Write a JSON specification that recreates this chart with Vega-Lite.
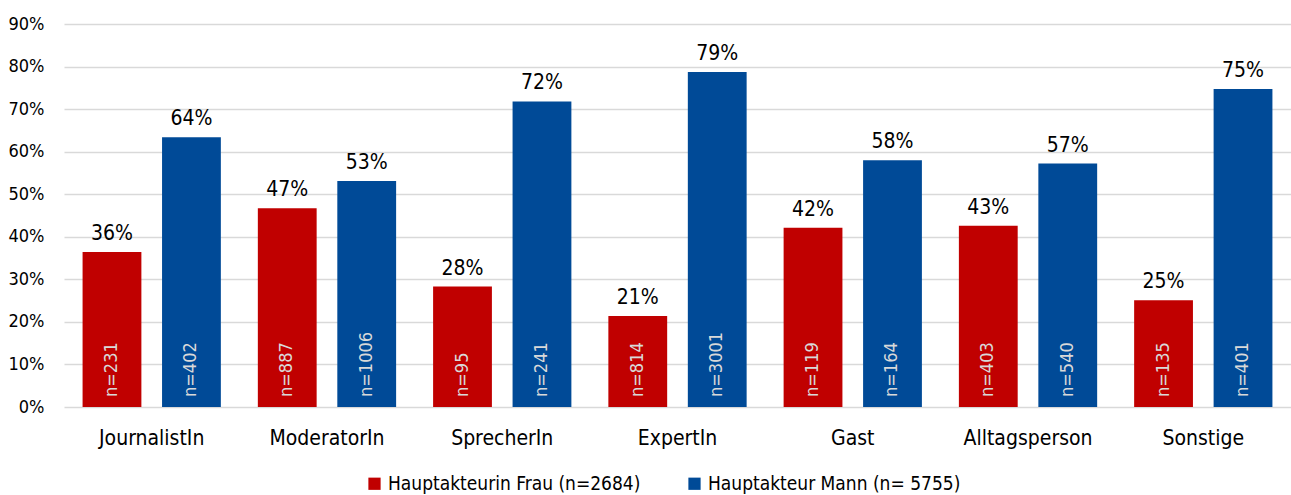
{
  "$schema": "https://vega.github.io/schema/vega-lite/v6.json",
  "width": 1227,
  "height": 383,
  "autosize": {"type": "none"},
  "padding": {"left": 64, "top": 24, "right": 0, "bottom": 88},
  "background": "white",
  "config": {
    "view": {"stroke": null},
    "font": "Liberation Sans Narrow, DejaVu Sans Condensed, Liberation Sans, sans-serif",
    "axis": {"labelFont": "Liberation Sans Narrow, DejaVu Sans Condensed, Liberation Sans, sans-serif", "labelColor": "#000000"},
    "legend": {"labelFont": "Liberation Sans Narrow, DejaVu Sans Condensed, Liberation Sans, sans-serif"}
  },
  "data": {
    "values": [
      {"category": "JournalistIn", "group": "Hauptakteurin  Frau (n=2684)", "value": 0.364, "pct": "36%", "n": "n=231"},
      {"category": "JournalistIn", "group": "Hauptakteur  Mann (n= 5755)", "value": 0.634, "pct": "64%", "n": "n=402"},
      {"category": "ModeratorIn", "group": "Hauptakteurin  Frau (n=2684)", "value": 0.467, "pct": "47%", "n": "n=887"},
      {"category": "ModeratorIn", "group": "Hauptakteur  Mann (n= 5755)", "value": 0.531, "pct": "53%", "n": "n=1006"},
      {"category": "SprecherIn", "group": "Hauptakteurin  Frau (n=2684)", "value": 0.283, "pct": "28%", "n": "n=95"},
      {"category": "SprecherIn", "group": "Hauptakteur  Mann (n= 5755)", "value": 0.718, "pct": "72%", "n": "n=241"},
      {"category": "ExpertIn", "group": "Hauptakteurin  Frau (n=2684)", "value": 0.214, "pct": "21%", "n": "n=814"},
      {"category": "ExpertIn", "group": "Hauptakteur  Mann (n= 5755)", "value": 0.787, "pct": "79%", "n": "n=3001"},
      {"category": "Gast", "group": "Hauptakteurin  Frau (n=2684)", "value": 0.421, "pct": "42%", "n": "n=119"},
      {"category": "Gast", "group": "Hauptakteur  Mann (n= 5755)", "value": 0.58, "pct": "58%", "n": "n=164"},
      {"category": "Alltagsperson", "group": "Hauptakteurin  Frau (n=2684)", "value": 0.426, "pct": "43%", "n": "n=403"},
      {"category": "Alltagsperson", "group": "Hauptakteur  Mann (n= 5755)", "value": 0.572, "pct": "57%", "n": "n=540"},
      {"category": "Sonstige", "group": "Hauptakteurin  Frau (n=2684)", "value": 0.251, "pct": "25%", "n": "n=135"},
      {"category": "Sonstige", "group": "Hauptakteur  Mann (n= 5755)", "value": 0.747, "pct": "75%", "n": "n=401"}
    ]
  },
  "encoding": {
    "x": {
      "field": "category", "type": "nominal", "sort": null, "title": null,
      "scale": {"paddingInner": 0.211, "paddingOuter": 0.106},
      "axis": {"labelAngle": 0, "labelFontSize": 21, "labelPadding": 20, "ticks": false, "domain": false, "grid": false}
    },
    "xOffset": {
      "field": "group", "type": "nominal", "sort": null,
      "scale": {"paddingInner": 0.26, "paddingOuter": 0}
    },
    "y": {
      "field": "value", "type": "quantitative", "title": null,
      "scale": {"domain": [0, 0.9], "nice": false},
      "axis": {"format": ".0%", "values": [0, 0.1, 0.2, 0.3, 0.4, 0.5, 0.6, 0.7, 0.8, 0.9], "labelFontSize": 18, "labelPadding": 20, "ticks": false, "domain": false, "gridColor": "#d9d9d9", "gridWidth": 1.5}
    }
  },
  "layer": [
    {
      "mark": {"type": "bar"},
      "encoding": {
        "color": {
          "field": "group", "type": "nominal", "sort": null, "title": null,
          "scale": {"range": ["#C00000", "#004A97"]},
          "legend": {"orient": "none", "legendX": 301, "legendY": 450, "direction": "horizontal", "symbolType": "square", "symbolSize": 150, "symbolStrokeWidth": 0, "labelFontSize": 19, "labelColor": "#000000", "columnPadding": 39, "labelLimit": 400}
        }
      }
    },
    {
      "mark": {"type": "text", "baseline": "bottom", "dy": -8, "fontSize": 21, "color": "#000000"},
      "encoding": {"text": {"field": "pct"}}
    },
    {
      "mark": {"type": "text", "angle": 270, "align": "left", "baseline": "middle", "dx": 10, "fontSize": 18, "color": "#d9d9d9"},
      "encoding": {"text": {"field": "n"}, "y": {"datum": 0}}
    }
  ]
}
